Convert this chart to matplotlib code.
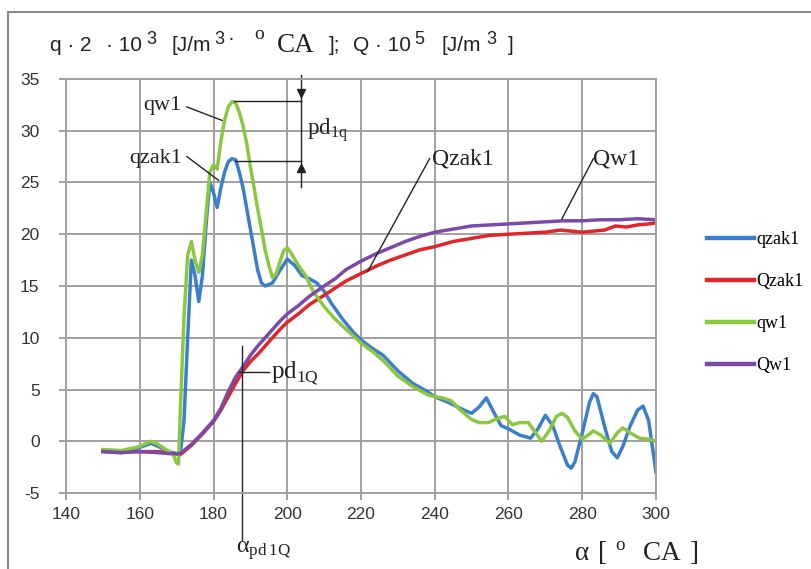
import numpy as np
import matplotlib
matplotlib.use("Agg")
import matplotlib.pyplot as plt
from matplotlib.patches import Rectangle

plt.rcParams["axes.unicode_minus"] = False

# crank angle [deg CA] and curves
x_qzak = [150, 155, 160, 163, 165, 168, 170, 171, 172, 173, 174, 175, 176, 177, 178, 179, 180, 181,
          182, 183, 184, 185, 186, 187, 188, 189, 190, 191, 192, 193, 194, 196, 198, 200, 202, 204,
          206, 208, 210, 212, 215, 218, 220, 223, 226, 230, 234, 238, 240, 244, 248, 250, 252, 254,
          256, 258, 260, 263, 266, 268, 270, 272, 274, 276, 277, 278, 280, 282, 283, 284, 286, 288,
          289.5, 291, 293, 295, 296.5, 298, 299, 300]
qzak1 = [-1, -1.1, -0.6, -0.2, -0.5, -1.0, -1.2, -1.2, 2, 10, 17.5, 16, 13.5, 16, 21, 25, 24, 22.6,
         24.5, 26, 27, 27.3, 27.2, 26, 24.5, 22.5, 20.5, 18.5, 16.5, 15.3, 15, 15.3, 16.5, 17.6, 17, 16,
         15.7, 15.3, 14.5, 13.3, 11.8, 10.5, 9.8, 9, 8.3, 6.8, 5.6, 4.8, 4.3, 3.7, 3, 2.7, 3.3, 4.2,
         2.8, 1.5, 1.2, 0.6, 0.3, 1.2, 2.5, 1.5, -0.5, -2.3, -2.6, -2, 0.8, 3.8, 4.6, 4.3, 1.5, -1,
         -1.6, -0.5, 1.5, 3, 3.4, 2, -0.5, -3]

x_qw = [150, 155, 160, 163, 165, 167, 169, 170, 170.5, 171, 172, 173, 174, 175, 176, 177, 178, 179,
        180, 181, 182, 183, 184, 185, 186, 187, 188, 189, 190, 191, 192, 193, 194, 195, 196, 197, 198,
        199, 200, 201, 203, 205, 207, 210, 213, 216, 220, 223, 226, 230, 234, 238, 240, 242, 244.5,
        247, 250, 252, 254.5, 257, 259, 261, 263, 265.4, 267, 269, 271, 273, 274.5, 276, 278, 280,
        282, 283, 285, 287.5, 289.5, 291, 293, 295.5, 298, 300]
qw1 = [-0.8, -0.9, -0.5, 0, -0.3, -0.8, -1.2, -2.1, -2.2, 3, 12, 18, 19.3, 17.5, 16.3, 18, 22, 26,
       26.7, 26.3, 29, 31, 32.3, 32.8, 32.7, 31.8, 30.5, 28.8, 26.5, 24.5, 22.4, 20.5, 18.5, 17, 15.8,
       16.2, 17.3, 18.4, 18.7, 18.2, 17, 16, 14.5, 13, 11.8, 10.8, 9.5, 8.7, 7.8, 6.3, 5.3, 4.5, 4.3,
       4.2, 3.9, 3, 2.1, 1.8, 1.8, 2.2, 2.4, 1.6, 1.8, 1.8, 1, 0, 1, 2.4, 2.7, 2.3, 1, 0.2, 0.7, 1,
       0.6, -0.2, 0.8, 1.3, 0.8, 0.3, 0.2, 0]

x_Qw = [150, 155, 160, 165, 168, 171, 174, 177, 180, 182, 184, 186, 188, 190, 192, 195, 198, 200,
        203, 206, 210, 213, 216, 220, 224, 228, 232, 236, 240, 245, 250, 255, 260, 265, 270, 275,
        280, 285, 290, 295, 300]
Qw1 = [-1, -1.1, -1, -1.1, -1.2, -1.2, -0.3, 0.8, 2, 3.2, 4.8, 6.2, 7.2, 8.3, 9.2, 10.4, 11.6, 12.3,
       13.1, 14, 15, 15.7, 16.6, 17.4, 18.1, 18.7, 19.3, 19.8, 20.2, 20.5, 20.8, 20.9, 21, 21.1, 21.2,
       21.3, 21.3, 21.4, 21.4, 21.5, 21.4]

x_Qzak = [150, 155, 160, 165, 168, 171, 174, 177, 180, 182, 184, 186, 188, 190, 192, 195, 198, 200,
          203, 206, 210, 213, 216, 220, 224, 228, 232, 236, 240, 245, 250, 255, 260, 265, 270, 274,
          277, 280, 283, 286, 289, 292, 295, 298, 300]
Qzak1 = [-0.9, -1, -1, -1, -1.1, -1.3, -0.4, 0.7, 1.9, 3, 4.3, 5.6, 6.8, 7.7, 8.4, 9.6, 10.8, 11.5,
         12.3, 13.2, 14.1, 14.8, 15.5, 16.2, 16.9, 17.5, 18, 18.5, 18.8, 19.3, 19.6, 19.9, 20, 20.1,
         20.2, 20.4, 20.3, 20.2, 20.3, 20.4, 20.8, 20.7, 20.9, 21, 21.1]

serif = "Liberation Serif"
sans = "Liberation Sans"
ink = "#222222"

fig = plt.figure(figsize=(8.12, 5.69), dpi=100)
ax = fig.add_axes([66 / 812, 1 - 493 / 569, (656 - 66) / 812, (493 - 79) / 569])

# chart area border (Excel style)
fig.patches.append(Rectangle((8 / 812, -0.05), 1.0, 1 - 12 / 569 + 0.05, transform=fig.transFigure,
                             fill=False, edgecolor="#8a8a8a", linewidth=1.5))

ax.plot(x_qzak, qzak1, color="#3b7fcc", lw=2.5, label="qzak1")
ax.plot(x_Qzak, Qzak1, color="#e0262b", lw=2.5, label="Qzak1")
ax.plot(x_qw, qw1, color="#8cc83f", lw=2.5, label="qw1")
ax.plot(x_Qw, Qw1, color="#7b4aa8", lw=2.5, label="Qw1")

ax.set_xlim(140, 300)
ax.set_ylim(-5, 35)
ax.set_xticks(range(140, 301, 20))
ax.set_yticks(range(-5, 36, 5))
ax.grid(True, color="#a0a0a0", lw=1.4)
ax.set_axisbelow(True)
for s in ax.spines.values():
    s.set_color("#a0a0a0")
    s.set_linewidth(1.4)
ax.tick_params(axis="y", length=5, width=1.4, color="#a0a0a0", labelsize=12.5, pad=14,
               labelcolor="#333333")
ax.tick_params(axis="x", length=5, width=1.4, color="#a0a0a0", labelsize=12.5, pad=5,
               labelcolor="#333333")
for lab in ax.get_xticklabels() + ax.get_yticklabels():
    lab.set_fontfamily(sans)

# annotations
k = dict(color=ink, lw=1.0)
ax.plot([172.8, 182.3], [32.3, 31.0], **k)
ax.text(166.2, 32.4, "qw1", family=serif, fontsize=16, ha="center", va="center", color=ink)
ax.plot([172.8, 181.4], [27.5, 25.2], **k)
ax.text(164.3, 27.3, "qzak1", family=serif, fontsize=16, ha="center", va="center", color=ink)

ax.plot([185.5, 203.7], [32.9, 32.9], **k)
ax.plot([185.8, 203.7], [27.1, 27.1], **k)
ax.plot([203.7, 203.7], [24.6, 35.4], clip_on=False, **k)
ax.plot([203.7], [33.6], marker="v", color=ink, ms=6, clip_on=False)
ax.plot([203.7], [26.4], marker="^", color=ink, ms=6, clip_on=False)
ax.text(205.3, 30.0, r"pd$_{\mathregular{1q}}$", family=serif, fontsize=16.5, ha="left", va="center",
        color=ink)

ax.plot([238.6, 221.8], [27.3, 16.4], **k)
ax.text(239.3, 27.3, "Qzak1", family=serif, fontsize=17, ha="left", va="center", color=ink)
ax.plot([283, 274.5], [27.3, 21.5], **k)
ax.text(283, 27.3, "Qw1", family=serif, fontsize=17, ha="left", va="center", color=ink)

ax.plot([187.8, 187.8], [-9.5, 9.2], clip_on=False, **k)
ax.plot([186.9, 195.0], [6.7, 6.7], **k)
ax.text(195.6, 6.6, r"pd$_{\mathregular{1Q}}$", family=serif, fontsize=18, ha="left", va="center",
        color=ink)
ax.text(186.2, -10.6, r"$\mathregular{\alpha_{pd\,1Q}}$", family=serif, fontsize=17.5, ha="left",
        va="center", clip_on=False, color=ink)

fig.text(574 / 812, 1 - 553 / 569, r"$\mathregular{\alpha\ [\ ^{o}\ \ CA\ ]}$", family=serif,
         fontsize=19.5, ha="left", va="center", color=ink)

# title, token by token: (left px, text, family, size, baseline px)
title_tokens = [
    (50, "q \u00b7 2", sans, 15, 51),
    (106, "\u00b7 10", sans, 15, 51),
    (146, "3", sans, 13, 44),
    (172, "[J/m", sans, 15, 51),
    (214, "3", sans, 13, 44),
    (228, "\u00b7", sans, 15, 44),
    (254, "o", serif, 14, 39),
    (277, "CA", serif, 19.5, 52),
    (329, "];", sans, 15, 51),
    (353, "Q \u00b7 10", sans, 15, 51),
    (414, "5", sans, 13, 44),
    (442, "[J/m", sans, 15, 51),
    (486, "3", sans, 13, 44),
    (508, "]", sans, 15, 51),
]
for px, txt, fam, fs, base in title_tokens:
    fig.text(px / 812, 1 - base / 569, txt, family=fam, fontsize=fs, ha="left", va="baseline",
             color=ink)

leg = fig.legend(loc="upper left", bbox_to_anchor=(700 / 812, 1 - 224 / 569), frameon=False,
                 prop={"family": serif, "size": 13}, handlelength=2.6, labelspacing=1.38,
                 handletextpad=0.1, borderaxespad=0)
for h in leg.get_lines():
    h.set_linewidth(3.2)

plt.savefig("out.png", dpi=100)
